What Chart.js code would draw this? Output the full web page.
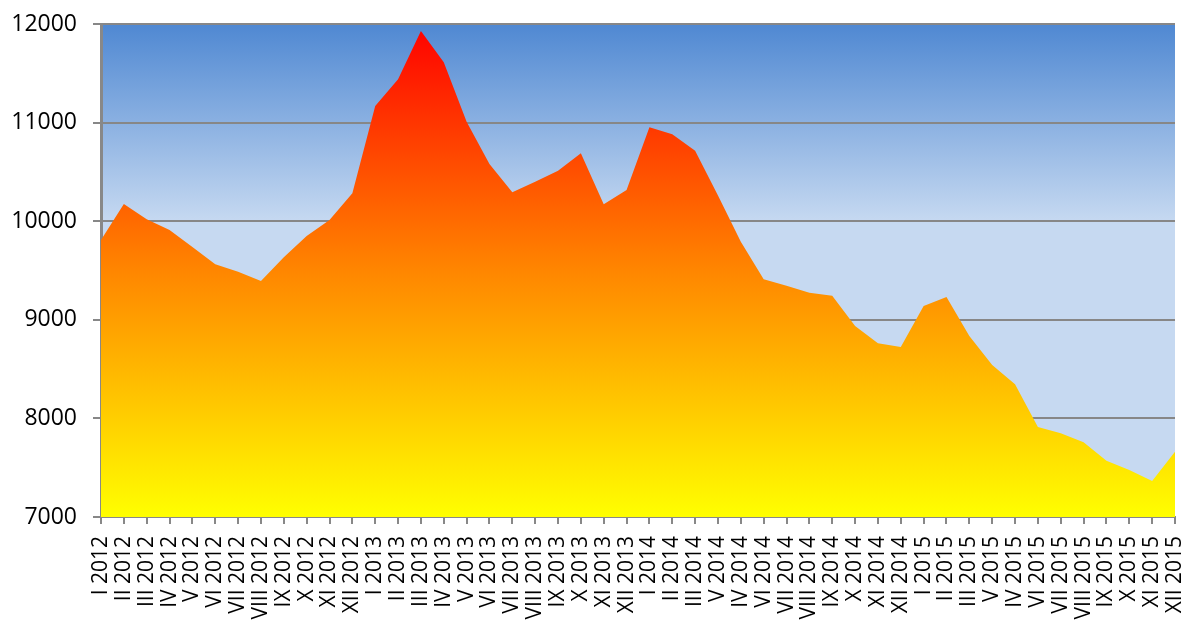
<!DOCTYPE html>
<html>
<head>
<meta charset="utf-8">
<script src="https://cdn.jsdelivr.net/npm/chart.js@4"></script>
<style>
  html, body { margin: 0; padding: 0; background: #ffffff; overflow: hidden; }
  #wrap { width: 1187px; height: 625px; position: relative; }
</style>
</head>
<body>
<div id="wrap"><canvas id="c" width="1187" height="625"></canvas></div>
<script>
const categories = [
  "I 2012","II 2012","III 2012","IV 2012","V 2012","VI 2012","VII 2012","VIII 2012","IX 2012","X 2012","XI 2012","XII 2012",
  "I 2013","II 2013","III 2013","IV 2013","V 2013","VI 2013","VII 2013","VIII 2013","IX 2013","X 2013","XI 2013","XII 2013",
  "I 2014","II 2014","III 2014","V 2014","IV 2014","VI 2014","VII 2014","VIII 2014","IX 2014","X 2014","XI 2014","XII 2014",
  "I 2015","II 2015","III 2015","V 2015","IV 2015","VI 2015","VII 2015","VIII 2015","IX 2015","X 2015","XI 2015","XII 2015"
];
const values = [
  9809, 10174, 10019, 9911, 9738, 9563, 9488, 9394, 9634, 9850, 10012, 10283,
  11168, 11439, 11929, 11612, 11009, 10580, 10293, 10401, 10512, 10689, 10171, 10316,
  10952, 10881, 10715, 10260, 9792, 9410, 9346, 9275, 9245, 8937, 8761, 8724,
  9140, 9231, 8836, 8542, 8346, 7913, 7849, 7757, 7571, 7477, 7365, 7662
];
const yMin = 7000, yMax = 12000, yStep = 1000;

const bgPlugin = {
  id: 'plotBg',
  beforeDraw(chart) {
    const { ctx, chartArea: a } = chart;
    const g = ctx.createLinearGradient(0, a.top, 0, a.bottom);
    g.addColorStop(0, '#4F88D2');
    g.addColorStop(0.40, '#C6D9F1');
    g.addColorStop(1, '#C6D9F1');
    ctx.save();
    ctx.fillStyle = g;
    ctx.fillRect(a.left, a.top, a.right - a.left, a.bottom - a.top);
    ctx.restore();
  }
};

new Chart(document.getElementById('c'), {
  type: 'line',
  data: {
    labels: categories,
    datasets: [{
      data: values,
      fill: 'start',
      borderWidth: 0,
      borderColor: 'rgba(0,0,0,0)',
      pointRadius: 0,
      tension: 0,
      backgroundColor(ctx) {
        const a = ctx.chart.chartArea;
        if (!a) return '#FFA000';
        const g = ctx.chart.ctx.createLinearGradient(0, a.top, 0, a.bottom);
        g.addColorStop(0, '#FF0000');
        g.addColorStop(0.5, '#FF8600');
        g.addColorStop(1, '#FFFF00');
        return g;
      }
    }]
  },
  options: {
    responsive: false,
    animation: false,
    devicePixelRatio: 1,
    layout: { padding: { top: 24, right: 12, left: 0, bottom: 0 } },
    plugins: { legend: { display: false }, tooltip: { enabled: false } },
    scales: {
      x: {
        type: 'category',
        offset: false,
        afterFit(s) { s.height = 108; s.paddingLeft = 0; s.paddingRight = 0; },
        grid: { drawOnChartArea: false, drawTicks: true, tickLength: 7, tickColor: '#888888', lineWidth: 2 },
        border: { display: true, color: '#888888', width: 2 },
        ticks: {
          autoSkip: false, minRotation: 90, maxRotation: 90, padding: 12,
          color: '#000000', font: { family: 'Open Sans', size: 21 }
        }
      },
      y: {
        min: yMin, max: yMax,
        afterFit(s) { s.width = 101; s.paddingTop = 0; s.paddingBottom = 0; },
        grid: { color: '#878787', lineWidth: 2, drawTicks: true, tickLength: 8, tickColor: '#878787' },
        border: { display: true, color: '#888888', width: 3 },
        ticks: {
          stepSize: yStep, padding: 16, color: '#000000',
          font: { family: 'Open Sans', size: 23 },
          callback: (v) => String(v)
        }
      }
    }
  },
  plugins: [bgPlugin]
});
</script>
</body>
</html>
